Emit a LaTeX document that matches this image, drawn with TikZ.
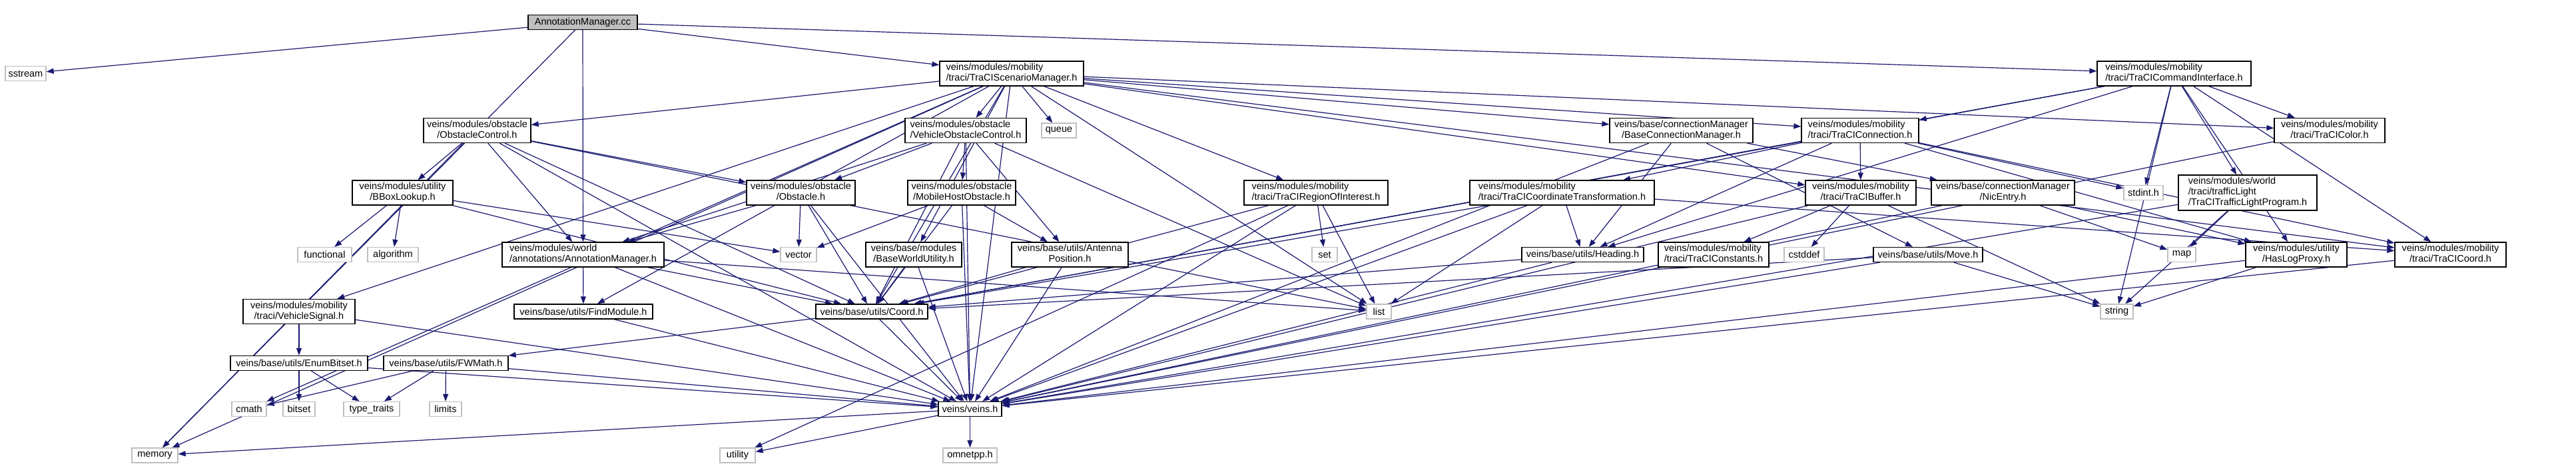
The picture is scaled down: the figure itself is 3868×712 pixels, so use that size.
\documentclass[tikz,border=0pt]{standalone}
\usepackage{fontspec}
\setmainfont{Liberation Sans}
\usepackage{tikz}
\usetikzlibrary{arrows.meta,backgrounds}
\usepackage{xcolor}
\definecolor{edgeblue}{RGB}{25,25,112}
\definecolor{extgray}{RGB}{191,191,191}
\newcommand{\lblfont}{\fontsize{14.5}{16}\selectfont}
\newcommand{\twoln}[2]{\begin{tabular}{@{}l@{}}#1\\\multicolumn{1}{@{}c@{}}{#2}\end{tabular}}
\newcommand{\threeln}[3]{\begin{tabular}{@{}l@{}}#1\\#2\\\multicolumn{1}{@{}c@{}}{#3}\end{tabular}}

\begin{document}
\begin{tikzpicture}[x=1pt, y=-1pt, every node/.style={font=\lblfont},
    hdr/.style={draw=black, line width=1.3pt, fill=white, inner sep=0pt, minimum height=37pt},
    hdrone/.style={hdr, minimum height=22pt},
    sys/.style={draw=extgray, line width=1.3pt, fill=white, inner sep=0pt, minimum height=22pt},
    dep/.style={draw=edgeblue, line width=1.2pt, -{Triangle[length=11pt,width=8pt]}}]
    \useasboundingbox (0,0) rectangle (3868,712);

    % --- Rank 0/1 ---
    \node[hdrone, fill=extgray, minimum width=164pt] (amcc) at (875,33.5) {AnnotationManager.cc};
    \node[sys, minimum width=61pt] (sstream) at (38.5,110.5) {sstream};
    \node[hdr, minimum width=216pt] (tsm) at (1519,110.5) {\twoln{veins/modules/mobility}{/traci/TraCIScenarioManager.h}};
    \node[hdr, minimum width=231pt] (tci) at (3264.5,110.5) {\twoln{veins/modules/mobility}{/traci/TraCICommandInterface.h}};

    % --- Rank 2 ---
    \node[hdr, minimum width=161pt] (oc) at (716.5,196) {\twoln{veins/modules/obstacle}{/ObstacleControl.h}};
    \node[hdr, minimum width=182pt] (voc) at (1450,196) {\twoln{veins/modules/obstacle}{/VehicleObstacleControl.h}};
    \node[sys, minimum width=52pt] (queue) at (1590,196) {queue};
    \node[hdr, minimum width=215pt] (bcm) at (2524.5,196) {\twoln{veins/base/connectionManager}{/BaseConnectionManager.h}};
    \node[hdr, minimum width=176pt] (tcon) at (2793,196) {\twoln{veins/modules/mobility}{/traci/TraCIConnection.h}};
    \node[hdr, minimum width=166pt] (tcolor) at (3498,196) {\twoln{veins/modules/mobility}{/traci/TraCIColor.h}};

    % --- Rank 3 ---
    \node[hdr, minimum width=151pt] (bbox) at (604.5,289.5) {\twoln{veins/modules/utility}{/BBoxLookup.h}};
    \node[hdr, minimum width=163pt] (obst) at (1202.5,289.5) {\twoln{veins/modules/obstacle}{/Obstacle.h}};
    \node[hdr, minimum width=162pt] (mho) at (1444,289.5) {\twoln{veins/modules/obstacle}{/MobileHostObstacle.h}};
    \node[hdr, minimum width=216pt] (troi) at (1976,289.5) {\twoln{veins/modules/mobility}{/traci/TraCIRegionOfInterest.h}};
    \node[hdr, minimum width=277pt] (tct) at (2345.5,289.5) {\twoln{veins/modules/mobility}{/traci/TraCICoordinateTransformation.h}};
    \node[hdr, minimum width=166pt] (tbuf) at (2794,289.5) {\twoln{veins/modules/mobility}{/traci/TraCIBuffer.h}};
    \node[hdr, minimum width=215pt] (nic) at (3007.5,289.5) {\twoln{veins/base/connectionManager}{/NicEntry.h}};
    \node[sys, minimum width=59pt] (stdint) at (3218.5,289.5) {stdint.h};
    \node[hdr, minimum width=208pt, minimum height=53pt] (ttlp) at (3375,289.5) {\threeln{veins/modules/world}{/traci/trafficLight}{/TraCITrafficLightProgram.h}};

    % --- Rank 4 ---
    \node[sys, minimum width=81pt] (functional) at (487.5,382.5) {functional};
    \node[sys, minimum width=76pt] (algorithm) at (590,382.5) {algorithm};
    \node[hdr, minimum width=243pt] (amh) at (875.5,382.5) {\twoln{veins/modules/world}{/annotations/AnnotationManager.h}};
    \node[sys, minimum width=54pt] (vector) at (1199,382.5) {vector};
    \node[hdr, minimum width=144pt] (bwu) at (1372,382.5) {\twoln{veins/base/modules}{/BaseWorldUtility.h}};
    \node[hdr, minimum width=175pt] (antpos) at (1606.5,382.5) {\twoln{veins/base/utils/Antenna}{Position.h}};
    \node[sys, minimum width=38pt] (set) at (1989,382.5) {set};
    \node[hdrone, minimum width=183pt] (heading) at (2376.5,382.5) {veins/base/utils/Heading.h};
    \node[hdr, minimum width=166pt] (tconst) at (2573,382.5) {\twoln{veins/modules/mobility}{/traci/TraCIConstants.h}};
    \node[sys, minimum width=60pt] (cstddef) at (2709,382.5) {cstddef};
    \node[hdrone, minimum width=164pt] (move) at (2895,382.5) {veins/base/utils/Move.h};
    \node[sys, minimum width=42pt] (map) at (3276,382.5) {map};
    \node[hdr, minimum width=152pt] (hlp) at (3448,382.5) {\twoln{veins/modules/utility}{/HasLogProxy.h}};
    \node[hdr, minimum width=167pt] (tcoord) at (3679.5,382.5) {\twoln{veins/modules/mobility}{/traci/TraCICoord.h}};

    % --- Rank 5 ---
    \node[hdr, minimum width=168pt] (vsig) at (449,468) {\twoln{veins/modules/mobility}{/traci/VehicleSignal.h}};
    \node[hdrone, minimum width=208pt] (findmod) at (876,468) {veins/base/utils/FindModule.h};
    \node[hdrone, minimum width=168pt] (coord) at (1309,468) {veins/base/utils/Coord.h};
    \node[sys, minimum width=37pt] (list) at (2070.5,468) {list};
    \node[sys, minimum width=49pt] (string) at (3178.5,468) {string};

    % --- Rank 6/7/8 ---
    \node[hdrone, minimum width=206pt] (enumbs) at (449,545.5) {veins/base/utils/EnumBitset.h};
    \node[hdrone, minimum width=187pt] (fwmath) at (669.5,545.5) {veins/base/utils/FWMath.h};
    \node[sys, minimum width=52pt] (cmath) at (374,614.5) {cmath};
    \node[sys, minimum width=48pt] (bitset) at (449,614.5) {bitset};
    \node[sys, minimum width=84pt] (typetraits) at (558,614.5) {type\_traits};
    \node[sys, minimum width=48pt] (limits) at (669,614.5) {limits};
    \node[hdrone, minimum width=95pt] (veins) at (1456.5,614.5) {veins/veins.h};
    \node[sys, minimum width=69pt] (memory) at (232.5,684) {memory};
    \node[sys, minimum width=53pt] (utility) at (1107.5,684) {utility};
    \node[sys, minimum width=81pt] (omnetpp) at (1456.5,684) {omnetpp.h};

    % --- Include edges ---
    \begin{scope}[on background layer]
      \fill[white] (0,0) rectangle (3868,712);
      \foreach \src/\dst in {amcc/sstream, amcc/memory, amcc/amh, amcc/tsm, amcc/tci,
          tsm/oc, tsm/voc, tsm/queue, tsm/troi, tsm/bcm, tsm/tcon, tsm/tcolor, tsm/tcoord,
          tsm/tbuf, tsm/vsig, tsm/memory, tsm/list, tsm/coord, tsm/bwu, tsm/findmod,
          tsm/veins, tsm/cmath,
          tci/tcon, tci/tcolor, tci/stdint, tci/ttlp, tci/string, tci/hlp, tci/tcoord,
          tci/coord, tci/heading,
          tcon/tbuf, tcon/tct, tcon/stdint, tcon/hlp, tcon/tcoord, tcon/coord, tcon/heading,
          oc/bbox, oc/amh, oc/obst, oc/memory, oc/list, oc/coord, oc/veins,
          voc/mho, voc/obst, voc/antpos, voc/amh, voc/list, voc/coord, voc/veins,
          bbox/functional, bbox/algorithm, bbox/vector, bbox/coord,
          obst/vector, obst/coord, obst/amh, obst/veins,
          mho/vector, mho/antpos, mho/coord, mho/veins,
          amh/findmod, amh/coord, amh/veins, amh/list,
          bwu/coord, bwu/veins, antpos/coord, antpos/veins,
          coord/fwmath, coord/veins,
          fwmath/cmath, fwmath/typetraits, fwmath/limits, fwmath/veins,
          enumbs/bitset, enumbs/typetraits, enumbs/veins,
          vsig/enumbs, vsig/veins, findmod/veins,
          troi/set, troi/list, troi/coord, troi/utility, troi/veins,
          tct/heading, tct/list, tct/coord, tct/tcoord, tct/veins,
          tbuf/cstddef, tbuf/tconst, tbuf/string, tbuf/veins,
          heading/coord, heading/veins,
          bcm/nic, bcm/heading, bcm/move, bcm/veins,
          nic/map, nic/hlp, nic/veins,
          move/coord, move/string, move/veins,
          tcolor/veins, tcoord/veins, hlp/string, hlp/veins,
          ttlp/map, ttlp/string, ttlp/veins,
          veins/memory, veins/utility, veins/omnetpp}
        \draw[dep] (\src) -- (\dst);
    \end{scope}
\end{tikzpicture}
\end{document}
